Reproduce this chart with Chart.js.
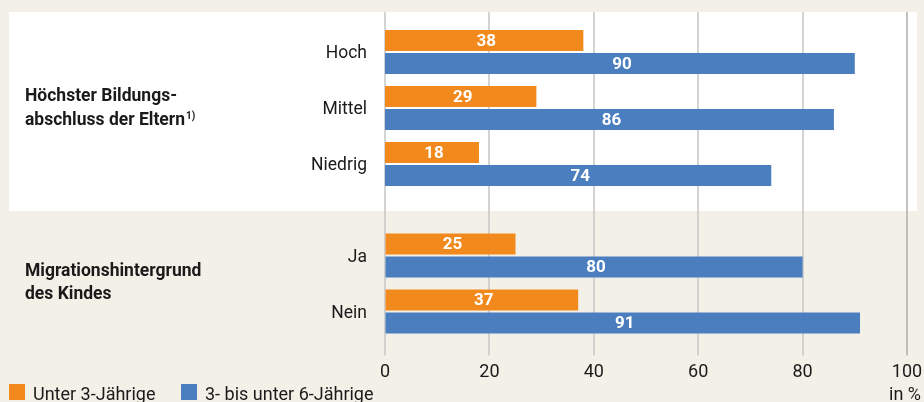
<!DOCTYPE html>
<html>
<head>
<meta charset="utf-8">
<script src="https://cdn.jsdelivr.net/npm/chart.js@4/dist/chart.umd.min.js"></script>
<style>
  html, body { margin: 0; padding: 0; background: #f3f0e8; }
  #wrap { position: relative; width: 924px; height: 402px; overflow: hidden; }
  canvas { position: absolute; left: 0; }
  #top { top: 0; }
  #bottom { top: 211px; }
</style>
</head>
<body>
<div id="wrap">
  <canvas id="top" width="924" height="211"></canvas>
  <canvas id="bottom" width="924" height="191"></canvas>
</div>
<script>
'use strict';

// data
var seriesNames = ['Unter 3-Jährige', '3- bis unter 6-Jährige'];
var eduLabels = ['Hoch', 'Mittel', 'Niedrig'];
var eduUnder3 = [38, 29, 18];
var edu3to6 = [90, 86, 74];
var migLabels = ['Ja', 'Nein'];
var migUnder3 = [25, 37];
var mig3to6 = [80, 91];
var xTicks = [0, 20, 40, 60, 80, 100];

var ORANGE = '#f1891d';
var BLUE = '#4a7ebf';
var TEXT = '#1a1a1a';
var FONT = 'Roboto';

function makeSets(a, b) {
	return [{
		label: seriesNames[0],
		data: a,
		backgroundColor: ORANGE,
		categoryPercentage: 0.82,
		barPercentage: 0.913
	}, {
		label: seriesNames[1],
		data: b,
		backgroundColor: BLUE,
		categoryPercentage: 0.82,
		barPercentage: 0.913
	}];
}

// grid lines run past the chart area, over the panel edges
function gridLines(chart, y0, y1) {
	var ctx = chart.ctx, sx = chart.scales.x;
	ctx.save();
	xTicks.forEach(function (v) {
		var px = Math.round(sx.getPixelForValue(v));
		ctx.strokeStyle = v === 100 ? '#b3b3b3' : '#c9c9c9';
		ctx.lineWidth = 1.6;
		ctx.beginPath();
		ctx.moveTo(px, y0);
		ctx.lineTo(px, y1);
		ctx.stroke();
	});
	ctx.restore();
}

function valueLabels(chart) {
	var ctx = chart.ctx;
	ctx.save();
	ctx.fillStyle = '#ffffff';
	ctx.font = 'bold 17px ' + FONT;
	ctx.textAlign = 'center';
	ctx.textBaseline = 'middle';
	chart.data.datasets.forEach(function (ds, i) {
		chart.getDatasetMeta(i).data.forEach(function (bar, j) {
			ctx.fillText(ds.data[j], (bar.base + bar.x) / 2 + 2, bar.y + 1);
		});
	});
	ctx.restore();
}

function groupLabel(ctx, lines, x, y, lh) {
	ctx.save();
	ctx.fillStyle = TEXT;
	ctx.font = 'bold 17.5px ' + FONT;
	ctx.textAlign = 'left';
	ctx.textBaseline = 'alphabetic';
	lines.forEach(function (t, i) { ctx.fillText(t, x, y + i * lh); });
	ctx.restore();
}

function yScale(labels) {
	return {
		type: 'category',
		labels: labels,
		grid: { display: false, drawTicks: false },
		border: { display: false },
		ticks: { color: TEXT, font: { family: FONT, size: 17.5 }, padding: 18, labelOffset: 2 },
		afterFit: function (s) {
			s.width = 385;
			s.paddingTop = 0;
			s.paddingBottom = 0;
		}
	};
}

var topChart = new Chart(document.getElementById('top'), {
	type: 'bar',
	data: { labels: eduLabels, datasets: makeSets(eduUnder3, edu3to6) },
	options: {
		indexAxis: 'y',
		responsive: false,
		animation: false,
		layout: { padding: { top: 24, bottom: 19, right: 17, left: 0 } },
		plugins: { legend: { display: false }, tooltip: { enabled: false } },
		scales: {
			x: { display: false, min: 0, max: 100 },
			y: yScale(eduLabels)
		}
	},
	plugins: [{
		id: 'topDeco',
		beforeDraw: function (chart) {
			var ctx = chart.ctx;
			ctx.save();
			ctx.fillStyle = '#ffffff';
			ctx.fillRect(9, 12, 908, 199);
			ctx.restore();
			gridLines(chart, 12, 211);
		},
		afterDraw: function (chart) {
			var ctx = chart.ctx;
			valueLabels(chart);
			groupLabel(ctx, ['Höchster Bildungs-', 'abschluss der Eltern'], 25, 101, 23.5);
			ctx.save();
			ctx.font = 'bold 17.5px ' + FONT;
			var w = ctx.measureText('abschluss der Eltern').width;
			ctx.font = 'bold 10px ' + FONT;
			ctx.fillStyle = TEXT;
			ctx.fillText('1)', 25 + w + 1, 119);
			ctx.restore();
		}
	}]
});

var bottomChart = new Chart(document.getElementById('bottom'), {
	type: 'bar',
	data: { labels: migLabels, datasets: makeSets(migUnder3, mig3to6) },
	options: {
		indexAxis: 'y',
		responsive: false,
		animation: false,
		layout: { padding: { top: 16.5, bottom: 0, right: 17, left: 0 } },
		plugins: { legend: { display: false }, tooltip: { enabled: false } },
		scales: {
			x: {
				min: 0,
				max: 100,
				grid: { color: 'rgba(0,0,0,0)', drawTicks: true, tickLength: 16 },
				border: { display: false },
				ticks: {
					stepSize: 20,
					color: TEXT,
					font: { family: FONT, size: 18 },
					padding: 6,
					maxRotation: 0
				},
				afterFit: function (s) {
					s.height = 62.5;
					s.paddingLeft = 0;
					s.paddingRight = 0;
				}
			},
			y: yScale(migLabels)
		}
	},
	plugins: [{
		id: 'bottomDeco',
		beforeDraw: function (chart) {
			gridLines(chart, 0, chart.chartArea.bottom + 16);
		},
		afterDraw: function (chart) {
			var ctx = chart.ctx;
			valueLabels(chart);
			groupLabel(ctx, ['Migrationshintergrund', 'des Kindes'], 25, 65, 23);
			// legend
			ctx.save();
			ctx.font = '18px ' + FONT;
			ctx.textBaseline = 'alphabetic';
			var lx = [9, 181];
			chart.data.datasets.forEach(function (ds, i) {
				ctx.fillStyle = ds.backgroundColor;
				ctx.fillRect(lx[i], 173, 16, 16);
				ctx.fillStyle = TEXT;
				ctx.textAlign = 'left';
				ctx.fillText(ds.label, lx[i] + 24, 189);
			});
			ctx.textAlign = 'right';
			ctx.fillText('in %', 921, 189);
			ctx.restore();
		}
	}]
});
</script>
</body>
</html>
